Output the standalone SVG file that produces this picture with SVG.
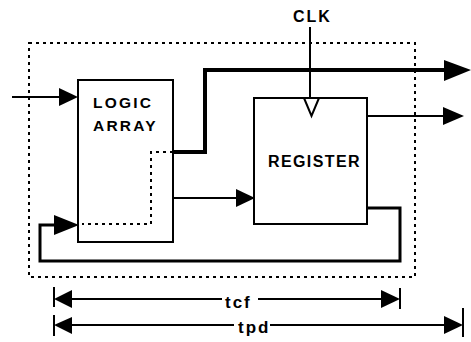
<svg xmlns="http://www.w3.org/2000/svg" width="471" height="342" viewBox="0 0 471 342">
<style>
.lbl{font-family:"Liberation Sans",Arial,sans-serif;font-weight:bold;fill:#000}
.box{fill:none;stroke:#000;stroke-width:2}
.w{fill:none;stroke:#000;stroke-width:2}
.wt{fill:none;stroke:#000;stroke-width:4}
.wf{fill:none;stroke:#000;stroke-width:3}
.dot{fill:none;stroke:#000;stroke-width:2;stroke-dasharray:3 4}
.ah{fill:#000}
</style>
<rect width="471" height="342" fill="#fff"/>
<g id="boundary">
<rect class="dot" x="29" y="43" width="386" height="234"/>
</g>
<g id="logic-array">
<rect class="box" x="78" y="80" width="95" height="162"/>
<text class="lbl" x="93" y="108" font-size="15.5" letter-spacing="2.2">LOGIC</text>
<text class="lbl" x="93" y="131" font-size="15.5" letter-spacing="2.2">ARRAY</text>
</g>
<g id="register">
<rect class="box" x="254" y="98" width="113" height="126"/>
<path class="w" d="M304,98 L311.5,116 L319,98"/>
<text class="lbl" x="268" y="167" font-size="16" letter-spacing="1.4">REGISTER</text>
</g>
<g id="clk">
<text class="lbl" x="293" y="22" font-size="16" letter-spacing="2">CLK</text>
</g>
<g id="tcf-label">
<text class="lbl" x="225" y="308" font-size="17" letter-spacing="2">tcf</text>
</g>
<g id="tpd-label">
<text class="lbl" x="238" y="333" font-size="17" letter-spacing="2">tpd</text>
</g>
<g id="connectors">
<line class="w" x1="12" y1="97" x2="62" y2="97"/>
<polygon class="ah" points="59,88 78,97 59,106"/>
<line class="w" x1="310" y1="27" x2="310" y2="98"/>
<polyline class="dot" points="173,152 151,152 151,224 82,224"/>
<polyline class="wt" points="173,152 205,152 205,70 448,70"/>
<polygon class="ah" points="444,60 471,70 444,81"/>
<line class="w" x1="173" y1="198" x2="240" y2="198"/>
<polygon class="ah" points="236,189 255,198 236,207"/>
<line class="w" x1="367" y1="116" x2="446" y2="116"/>
<polygon class="ah" points="443,107 464,116 443,125"/>
<polyline class="wf" points="367,208 400,208 400,261 40,261 40,225 58,225"/>
<polygon class="ah" points="54,215 79,225 54,235"/>
<line class="w" x1="54" y1="287" x2="54" y2="307"/>
<line class="w" x1="400" y1="288" x2="400" y2="309"/>
<polygon class="ah" points="72,290 54,299 72,308"/>
<line class="w" x1="70" y1="299" x2="222" y2="299"/>
<line class="w" x1="258" y1="299" x2="384" y2="299"/>
<polygon class="ah" points="381,290 400,299 381,308"/>
<line class="w" x1="54" y1="315" x2="54" y2="336"/>
<line class="w" x1="463" y1="308" x2="463" y2="337"/>
<polygon class="ah" points="72,317 54,325 72,334"/>
<line class="w" x1="70" y1="325" x2="234" y2="325"/>
<line class="w" x1="270" y1="325" x2="448" y2="325"/>
<polygon class="ah" points="444,316 463,325 444,334"/>
</g>
</svg>
